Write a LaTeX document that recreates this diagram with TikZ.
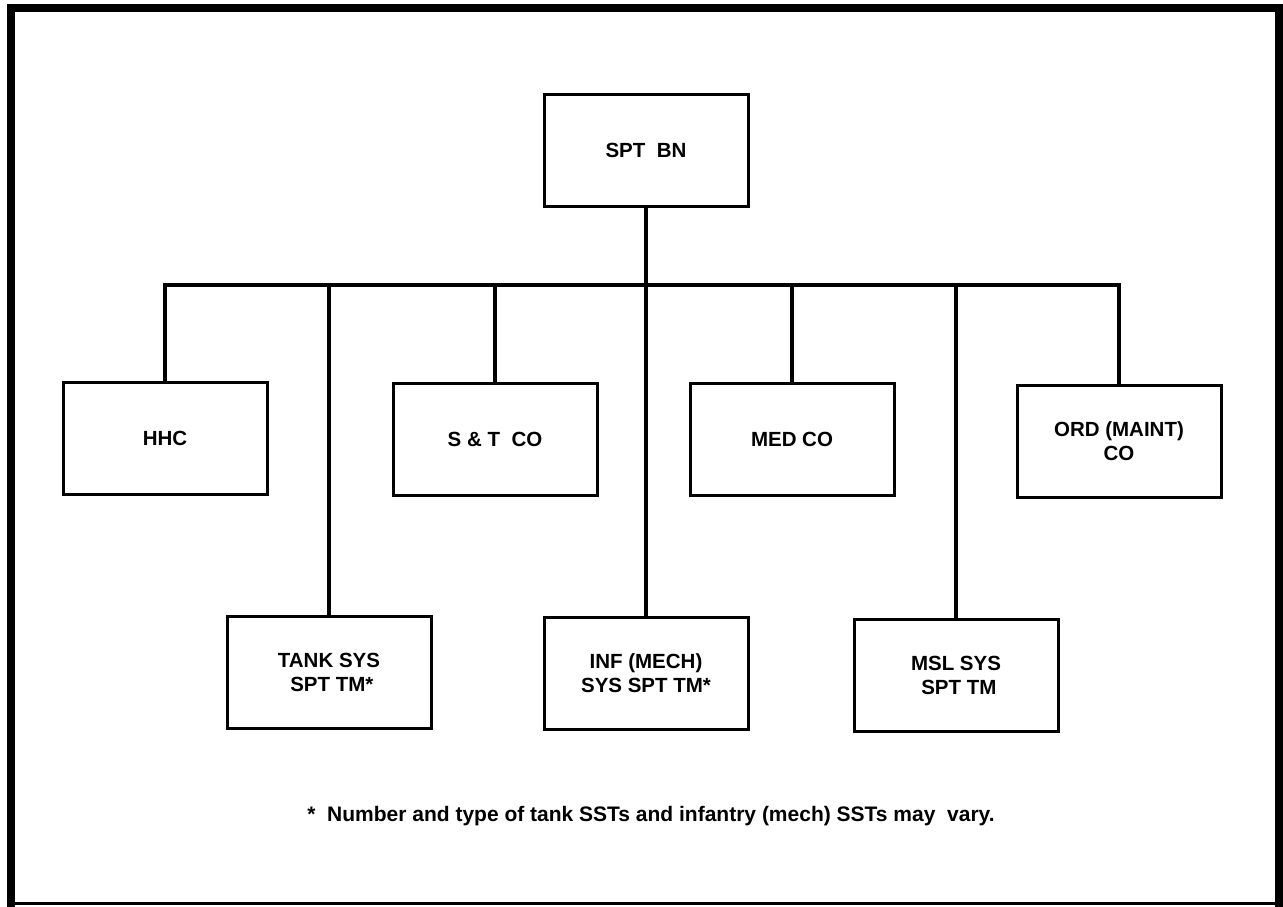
\documentclass[tikz,border=0pt]{standalone}
\usepackage{fontspec}
\setmainfont{Liberation Sans}

\begin{document}
\begin{tikzpicture}[x=1pt, y=-1pt, line width=4.5pt,
  every node/.style={draw, line width=3pt, minimum width=204pt, minimum height=112pt,
    align=center, font=\bfseries\fontsize{20.5}{24}\selectfont}]
\useasboundingbox (0,0) rectangle (1283,906);
\draw[line width=8pt, line cap=rect] (11,903) |- (1279,8) -- (1279,903);
\draw[line width=3pt] (7,903) -- (1283,903);

\node (bn) at (646,150) {SPT\ \ BN};
\node (hhc) at (165,438) {HHC};
\node (st) at (495,439) {S \& T\ \ CO};
\node (med) at (792,439) {MED CO};
\node (ord) at (1119,441) {ORD (MAINT)\\CO};
\node (tank) at (329,672) {TANK SYS\\\ SPT TM*};
\node (inf) at (646,673) {INF (MECH)\\SYS SPT TM*};
\node (msl) at (956,675) {MSL SYS\\\ SPT TM};

\coordinate (bus) at (646,285);
\draw (hhc.north) |- (bus) -| (ord.north);
\draw (bn.south) -- (inf.north);
\foreach \n in {tank,st,med,msl}
  \draw (\n.north) -- (\n.north |- bus);

\node[draw=none, minimum width=0pt, minimum height=0pt, font=\bfseries\fontsize{21}{24}\selectfont] (note) at (651,816)
  {*\ \ Number and type of tank SSTs and infantry (mech) SSTs may\ \ vary.};
\end{tikzpicture}
\end{document}
